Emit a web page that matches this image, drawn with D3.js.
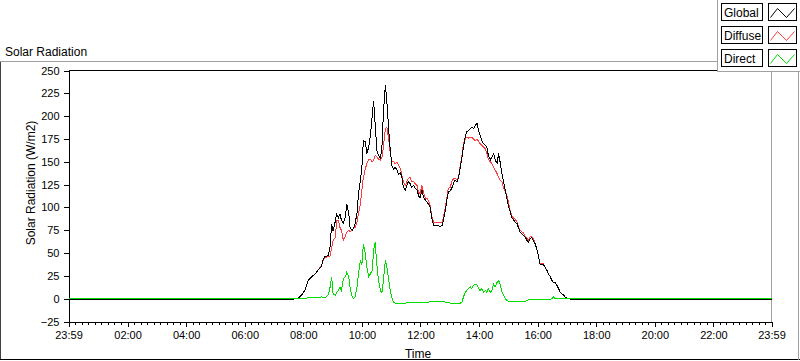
<!DOCTYPE html>
<html>
<head>
<meta charset="utf-8">
<script src="https://cdn.jsdelivr.net/npm/d3@7/dist/d3.min.js"></script>
<style>
body{margin:0;background:#fff;}
svg{display:block;font-family:"Liberation Sans",Arial,sans-serif;}
</style>
</head>
<body>
<div id="chart"></div>
<script>
// minutes since midnight (-1 = 23:59 of previous day)
const timeMin = [-1,450,468,476,483,490,497,504,511,517,521,524,531,535,538,541,546,548,552,555,558,562,566,569,573,576,580,583,586,590,593,597,600,603,607,610,614,617,621,624,627,631,634,638,641,644,648,651,655,658,662,665,668,672,675,679,682,685,689,692,695,699,702,706,709,713,716,719,723,726,730,733,736,740,743,747,750,754,757,760,764,767,771,774,777,781,784,788,791,795,798,801,805,808,812,815,818,822,825,829,832,836,839,842,846,849,853,856,859,863,866,870,873,877,880,883,887,890,894,897,900,904,907,911,914,918,921,924,928,931,934,938,941,945,948,951,955,958,962,965,969,972,975,979,982,986,989,992,996,999,1003,1006,1010,1013,1016,1023,1030,1439];
const globalVals = [-1,-1,0,3.6,9,20,24,27,32,35,44,46,47,58,82,74,86,93,89,93,86,83,89,104,94,77,75,77,82,94,115,130,144,173,172,159,166,177,199,217,192,161,157,154,166,203,234,217,184,163,144,142,144,141,136,138,133,122,119,124,128,126,122,124,121,119,113,110,119,111,108,106,104,100,89,80,80,80,80,79,80,86,97,108,117,118,121,127,130,128,133,142,155,166,179,183,184,186,188,186,190,192,184,179,173,170,168,166,157,152,155,159,152,148,159,150,137,128,118,110,102,95,89,86,84,82,77,73,71,69,68,64,62,66,67,64,60,55,46,38,37,37,35,31,27,24,20,18,18,15,11,7,5,4,2,0,-1,-1];
const diffuseVals = [0,0,0,3.6,9,20,24,27,32,36,43,45,46,47,56,64,67,86,86,78,75,64,68,73,75,73,75,77,78,84,93,104,119,133,142,148,152,153,150,152,157,155,153,152,155,166,186,188,175,159,150,150,148,150,146,142,135,128,124,128,132,133,128,128,126,124,117,115,124,117,110,110,108,102,91,84,84,84,84,84,84,89,100,110,121,122,128,132,132,130,133,144,157,170,175,177,176,177,177,175,173,175,172,170,168,166,164,159,153,150,148,144,141,137,133,130,128,122,117,113,106,96,91,88,87,84,78,75,73,72,69,66,64,68,68,66,60,55,46,38,38,38,35,31,27,24,20,18,17,15,11,7,5,4,2,0,0,0];
const directVals = [0,0,0,0,0,1,1,1,1,2,1,1,4,13,24,5,4,7,9,13,9,22,24,29,24,11,2,0,2,13,27,42,37,60,49,35,24,27,31,53,62,35,20,9,6,20,42,35,20,9,0,-4,-5,-5,-5,-5,-5,-5,-5,-4,-4,-4,-4,-4,-4,-4,-4,-4,-4,-4,-4,-4,-4,-3,-3,-3,-3,-3,-3,-3,-3,-3,-4,-4,-4,-5,-5,-5,-5,-5,-5,-5,-4,2,7,9,11,13,11,15,16,15,11,9,11,7,9,7,11,7,9,16,13,18,20,16,7,4,0,-2,-3,-3,-3,-3,-3,-3,-3,-3,-3,-3,-3,-2,-1,-1,-1,-1,-1,-1,-1,-1,-1,-1,-1,-1,-1,-1,0,2,0,0,0,0,0,0,0,0,0,0];

const yTickVals = [-25,0,25,50,75,100,125,150,175,200,225,250];
const xTickVals = [-1,120,240,360,480,600,720,840,960,1080,1200,1320,1439];
const xTickLabels = ["23:59","02:00","04:00","06:00","08:00","10:00","12:00","14:00","16:00","18:00","20:00","22:00","23:59"];
const seriesNames = ["Global","Diffuse","Direct"];
const seriesColors = ["#000000","#ff3b3b","#00dd00"];

const W = 800, H = 361;
const plot = {left:68.5, right:771.5, top:70.5, bottom:321.5};

const svg = d3.select("#chart").append("svg")
    .attr("width", W).attr("height", H);

// outer frame
const frameG = svg.append("g").attr("class","frameG").attr("shape-rendering","crispEdges");
frameG.append("line").attr("x1",0).attr("x2",717).attr("y1",61.5).attr("y2",61.5).attr("stroke","#a0a0a0");
frameG.append("line").attr("x1",0.5).attr("x2",0.5).attr("y1",61.5).attr("y2",360).attr("stroke","#404040");
frameG.append("line").attr("x1",0).attr("x2",800).attr("y1",359.5).attr("y2",359.5).attr("stroke","#000");
frameG.append("line").attr("x1",798.5).attr("x2",798.5).attr("y1",72).attr("y2",360).attr("stroke","#a0a0a0");

svg.append("text")
    .attr("x",5).attr("y",55.5)
    .attr("font-size","12px").attr("fill","#000")
    .text("Solar Radiation");

const xScale = d3.scaleLinear().domain([-1,1439]).range([plot.left, plot.right]);
const yScale = d3.scaleLinear().domain([-25,250]).range([plot.bottom, plot.top]);

// plot area
const plotG = svg.append("g").attr("class","plotG");
plotG.append("rect")
    .attr("x",plot.left).attr("y",plot.top)
    .attr("width",plot.right-plot.left).attr("height",plot.bottom-plot.top)
    .attr("fill","#fff");
plotG.append("line").attr("shape-rendering","crispEdges")
    .attr("x1",plot.left).attr("x2",plot.right).attr("y1",plot.top).attr("y2",plot.top).attr("stroke","#000");
plotG.append("line").attr("shape-rendering","crispEdges")
    .attr("x1",plot.right).attr("x2",plot.right).attr("y1",plot.top).attr("y2",plot.bottom).attr("stroke","#a0a0a0");

// axes
const yAxisG = svg.append("g").attr("class","yAxisG")
    .attr("transform","translate("+plot.left+",0)")
    .call(d3.axisLeft(yScale).tickValues(yTickVals).tickSize(5).tickPadding(4).tickSizeOuter(0));
const xAxisG = svg.append("g").attr("class","xAxisG")
    .attr("transform","translate(0,"+plot.bottom+")")
    .call(d3.axisBottom(xScale).tickValues(xTickVals).tickSize(5).tickPadding(5).tickSizeOuter(0)
        .tickFormat((d,i)=>xTickLabels[i]));

// minor x ticks: 9 steps per 2 h block
const minorVals = [];
for(let i=0;i<xTickVals.length-1;i++){
    for(let k=1;k<9;k++){
        minorVals.push(xTickVals[i]+(xTickVals[i+1]-xTickVals[i])*k/9);
    }
}
svg.append("g").attr("class","xMinorG")
    .attr("transform","translate(0,"+plot.bottom+")")
    .call(d3.axisBottom(xScale).tickValues(minorVals).tickSize(3).tickFormat("").tickSizeOuter(0))
    .select(".domain").remove();

svg.selectAll(".yAxisG, .xAxisG, .xMinorG").attr("shape-rendering","crispEdges");
svg.selectAll(".yAxisG text, .xAxisG text")
    .attr("font-size","11px").attr("fill","#000").attr("font-family","'Liberation Sans',Arial,sans-serif");

svg.append("text")
    .attr("transform","translate(35,183) rotate(-90)")
    .attr("text-anchor","middle").attr("font-size","12px").attr("fill","#000")
    .text("Solar Radiation (W/m2)");
svg.append("text")
    .attr("x",418).attr("y",358).attr("text-anchor","middle")
    .attr("font-size","12px").attr("fill","#000")
    .text("Time");

// series
const seriesVals = [globalVals, diffuseVals, directVals];
const drawOrder = [1,0,2];
const line = d3.line().x(d=>xScale(d.t)).y(d=>yScale(d.v));
const linesG = svg.append("g").attr("class","linesG");
drawOrder.forEach(si=>{
    const pts = timeMin.map((t,i)=>({t:t, v:seriesVals[si][i]}));
    linesG.append("path")
        .attr("d", line(pts))
        .attr("fill","none")
        .attr("stroke", seriesColors[si])
        .attr("stroke-width",1)
        .attr("shape-rendering","crispEdges");
});

// legend
const legendG = svg.append("g").attr("class","legendG");
legendG.append("rect").attr("x",717).attr("y",0).attr("width",83).attr("height",72).attr("fill","#fff");
legendG.append("line").attr("shape-rendering","crispEdges")
    .attr("x1",717.5).attr("x2",717.5).attr("y1",0).attr("y2",72).attr("stroke","#a0a0a0");
legendG.append("line").attr("shape-rendering","crispEdges")
    .attr("x1",717).attr("x2",800).attr("y1",71.5).attr("y2",71.5).attr("stroke","#a0a0a0");
const zig = [[2,14],[9,5],[18,14],[26,5]];
seriesNames.forEach((name,i)=>{
    const y0 = 3.5 + i*23;
    const row = legendG.append("g").attr("transform","translate(0,"+y0+")");
    row.append("rect").attr("shape-rendering","crispEdges")
        .attr("x",721.5).attr("y",0).attr("width",41).attr("height",17)
        .attr("fill","#fff").attr("stroke","#000");
    row.append("text").attr("x",724).attr("y",13)
        .attr("font-size","12px").attr("fill","#000").text(name);
    row.append("rect").attr("shape-rendering","crispEdges")
        .attr("x",768.5).attr("y",0).attr("width",28).attr("height",17)
        .attr("fill","#fff").attr("stroke","#000");
    row.append("path")
        .attr("d", d3.line()(zig.map(p=>[768.5+p[0], p[1]])))
        .attr("fill","none").attr("stroke",seriesColors[i]).attr("stroke-width",1);
});
</script>
</body>
</html>
